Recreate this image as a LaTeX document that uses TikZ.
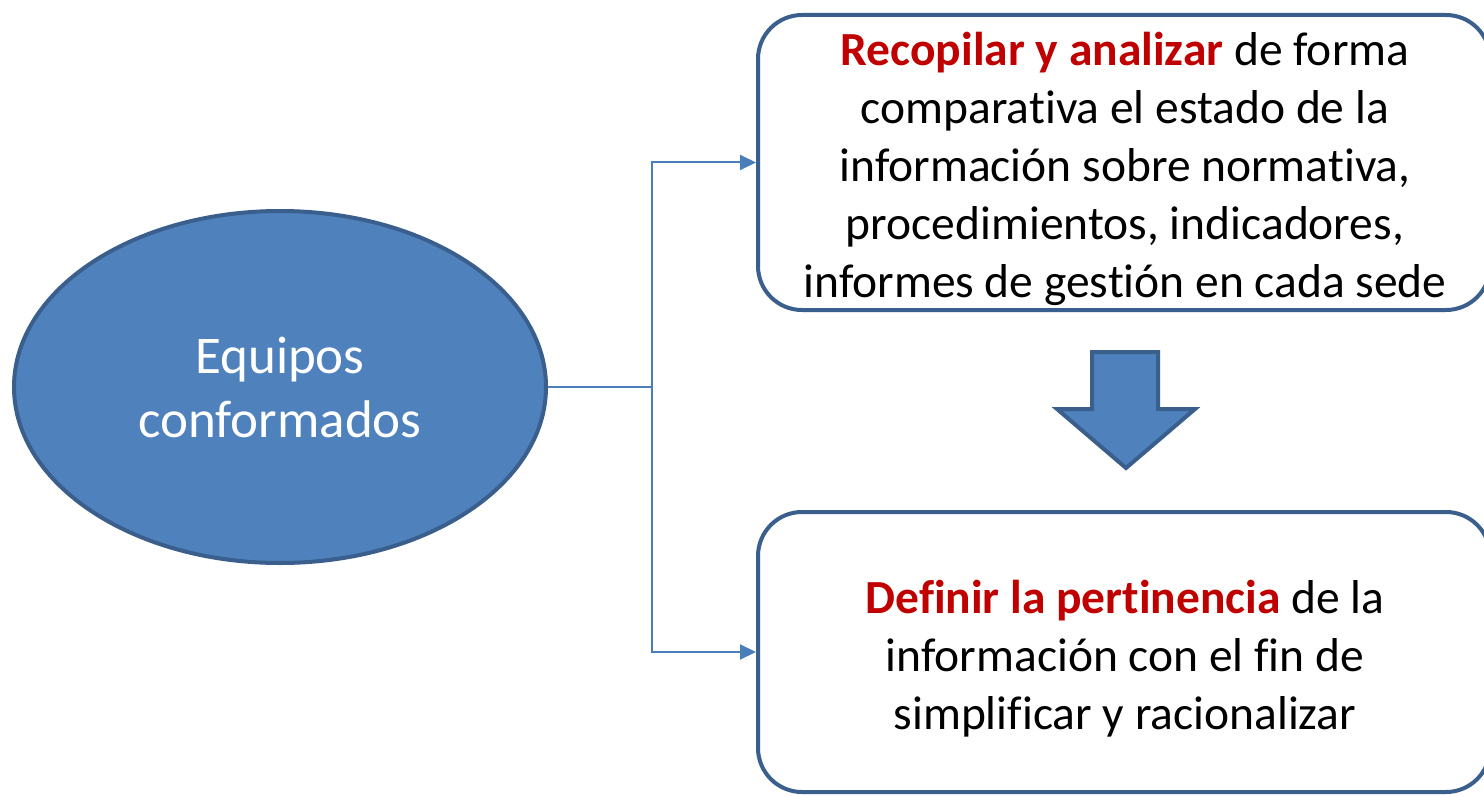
\documentclass[tikz,border=0pt]{standalone}
\usepackage{fontspec}
\setmainfont{Carlito}[Ligatures=NoCommon]
\usetikzlibrary{shapes.geometric,arrows.meta}
\definecolor{fillblue}{HTML}{4F81BD}
\definecolor{edgeblue}{HTML}{3A5F8C}
\definecolor{linkblue}{HTML}{4A7EBB}
\definecolor{accent}{HTML}{C00000}
\begin{document}
\begin{tikzpicture}[x=1pt,y=-1pt,
  oval/.style={ellipse, draw=edgeblue, fill=fillblue, line width=4pt,
    minimum width=532pt, minimum height=352pt, inner sep=0pt,
    text=white, align=center, font=\fontsize{53}{64}\selectfont},
  textbox/.style={rectangle, rounded corners=44pt, draw=edgeblue, line width=4pt,
    fill=white, minimum width=732pt, inner sep=0pt},
  boxtext/.style={inner sep=0pt, align=center, font=\fontsize{47.5}{58}\selectfont},
  link/.style={draw=linkblue, line width=2pt},
  linkarrow/.style={link, -{Triangle[length=16pt,width=15pt]}},
  blockarrow/.style={draw=edgeblue, fill=fillblue, line width=4pt, line join=miter}]
\fill[white] (0,0) rectangle (1484,797);
\useasboundingbox (0,0) rectangle (1484,797);

\node[oval] (eq) at (280,387) {Equipos\\conformados};

\node[textbox, minimum height=295pt] (b1) at (1124,162.5) {};
\node[boxtext] (t1) at (1125,168.5)
  {\textcolor{accent}{\textbf{Recopilar y analizar}} de forma\\
   comparativa el estado de la\\
   información sobre normativa,\\
   procedimientos, indicadores,\\
   informes de gestión en cada sede};

\node[textbox, minimum height=280pt] (b2) at (1124,652) {};
\node[boxtext] (t2) at (1125,658.5)
  {\textcolor{accent}{\textbf{Definir la pertinencia}} de la\\
   información con el fin de\\
   simplificar y racionalizar};

\coordinate (j) at (652,387);
\draw[link] (eq.east) -- (j);
\draw[linkarrow] (j) |- (b1.west);
\draw[linkarrow] (j) |- (b2.west);

\draw[blockarrow] (1092,352) -- (1158,352) -- (1158,409) -- (1195,409)
  -- (1126,468) -- (1057,409) -- (1092,409) -- cycle;
\end{tikzpicture}
\end{document}
